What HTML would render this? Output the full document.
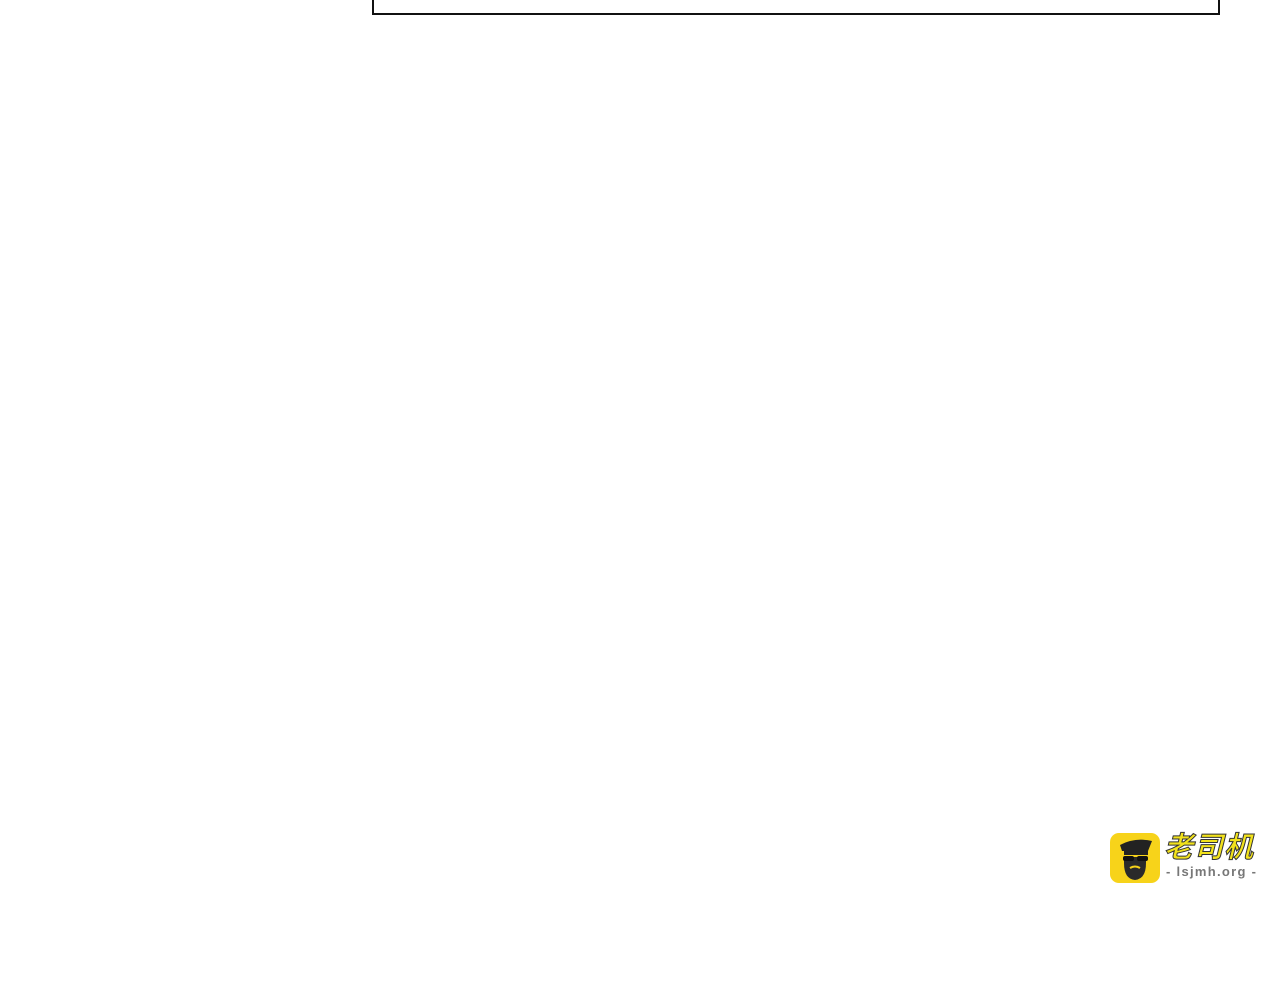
<!DOCTYPE html>
<html><head><meta charset="utf-8"><style>
html,body{margin:0;padding:0;background:#fff;width:1280px;height:1000px;overflow:hidden;position:relative}
.box{position:absolute;left:372px;top:-12px;width:844px;height:23px;border:2px solid #111;}
.icon{position:absolute;left:1110px;top:833px;width:50px;height:50px;border-radius:9px;background:#f7d31a;overflow:hidden}
.t1{position:absolute;left:1164px;top:828px;font:italic bold 29px "Noto Sans CJK SC",sans-serif;color:#f2e21c;-webkit-text-stroke:1px #333;letter-spacing:1px;line-height:34px}
.t2{position:absolute;left:1166px;top:863px;font:bold 13px "Liberation Sans",sans-serif;color:#777;line-height:18px;white-space:nowrap;letter-spacing:1.3px}
</style></head><body>
<div class="box"></div>
<div class="icon"><svg width="50" height="50" viewBox="0 0 50 50">
<path d="M10 12 Q25 4 42 8 L38 18 L12 18 Z" fill="#222"/>
<rect x="14" y="18" width="24" height="4" fill="#222"/>
<path d="M14 24 L36 24 L36 30 Q36 46 25 47 Q14 46 14 30 Z" fill="#2a2a2a"/>
<rect x="13" y="23" width="11" height="5" rx="2" fill="#111"/>
<rect x="27" y="23" width="11" height="5" rx="2" fill="#111"/>
<path d="M20 35 Q25 32 30 35" stroke="#f7d31a" stroke-width="2" fill="none"/>
</svg></div>
<div class="t1">老司机</div>
<div class="t2">- lsjmh.org -</div>
</body></html>
